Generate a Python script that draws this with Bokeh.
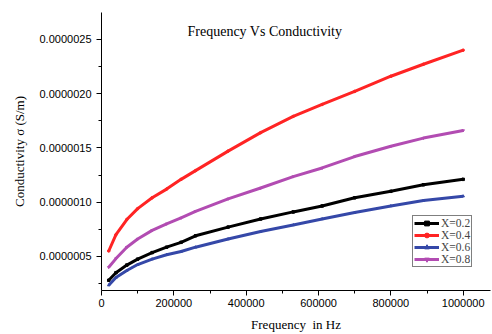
import numpy as np
from bokeh.plotting import figure
from bokeh.models import (FixedTicker, PrintfTickFormatter, Legend, LegendItem,
                          Label, Range1d)
from bokeh.embed import file_html
from bokeh.resources import INLINE

# Frequency (Hz)
freq = [20000, 40000, 70000, 100000, 140000, 180000, 220000, 260000, 350000,
        440000, 530000, 610000, 700000, 800000, 890000, 1000000]
# Conductivity in units of 1e-6 S/m
x02 = [0.28, 0.35, 0.42, 0.475, 0.535, 0.585, 0.63, 0.69, 0.77, 0.845, 0.91,
       0.965, 1.04, 1.10, 1.16, 1.21]
x04 = [0.55, 0.70, 0.84, 0.94, 1.04, 1.12, 1.21, 1.29, 1.47, 1.64, 1.79,
       1.90, 2.02, 2.16, 2.27, 2.40]
x06 = [0.235, 0.305, 0.37, 0.425, 0.475, 0.515, 0.545, 0.585, 0.66, 0.73,
       0.79, 0.845, 0.905, 0.965, 1.015, 1.055]
x08 = [0.40, 0.48, 0.585, 0.66, 0.74, 0.80, 0.855, 0.915, 1.03, 1.13, 1.235,
       1.315, 1.42, 1.515, 1.59, 1.66]

labels = ["X=0.2", "X=0.4", "X=0.6", "X=0.8"]
series = [x02, x04, x06, x08]
colors = ["#000000", "#ff2424", "#3548a8", "#b24cb2"]
markers = ["square", "circle", "triangle", "inverted_triangle"]

y_ticks = [0.5e-6, 1.0e-6, 1.5e-6, 2.0e-6, 2.5e-6]
y_minor = [0.25e-6, 0.75e-6, 1.25e-6, 1.75e-6, 2.25e-6]
x_ticks = [0, 200000, 400000, 600000, 800000, 1000000]
x_minor = [100000, 300000, 500000, 700000, 900000]

SERIF = "Liberation Serif"
SANS = "Liberation Sans"

p = figure(width=492, height=334, output_backend="svg", toolbar_location=None,
           x_range=Range1d(0, 1075500), y_range=Range1d(0.186e-6, 2.747e-6),
           min_border_left=101, min_border_right=2, min_border_top=12,
           min_border_bottom=42)
p.outline_line_color = None
p.xgrid.grid_line_color = None
p.ygrid.grid_line_color = None
p.background_fill_color = "white"
p.border_fill_color = "white"

items = []
for lab, s, c, m in zip(labels, series, colors, markers):
    y = np.array(s) * 1e-6
    r1 = p.line(freq, y, line_color=c, line_width=3)
    r2 = p.scatter(freq, y, marker=m, size=2.5, fill_color=c, line_color=c)
    items.append(LegendItem(label=lab, renderers=[r1, r2]))

for ax in (p.xaxis[0], p.yaxis[0]):
    ax.axis_line_color = "black"
    ax.axis_line_width = 1
    ax.major_tick_in = 0
    ax.major_tick_out = 5
    ax.minor_tick_in = 0
    ax.minor_tick_out = 3
    ax.major_tick_line_color = "black"
    ax.minor_tick_line_color = "black"
    ax.major_label_text_font = SANS
    ax.major_label_text_font_size = "11px"
    ax.major_label_text_color = "black"
    ax.axis_label_text_font = SERIF
    ax.axis_label_text_font_size = "13px"
    ax.axis_label_text_font_style = "normal"
    ax.axis_label_text_color = "black"

p.xaxis.ticker = FixedTicker(ticks=x_ticks, minor_ticks=x_minor)
p.xaxis.formatter = PrintfTickFormatter(format="%d")
p.xaxis.axis_label = "Frequency\u00a0 in Hz"
p.xaxis.major_label_standoff = 3
p.xaxis.axis_label_standoff = 7

p.yaxis.ticker = FixedTicker(ticks=y_ticks, minor_ticks=y_minor)
p.yaxis.formatter = PrintfTickFormatter(format="%.7f")
p.yaxis.axis_label = "Conductivity σ (S/m)"
p.yaxis.major_label_standoff = 5
p.yaxis.axis_label_standoff = 10

title = Label(x=86, y=259, x_units="screen", y_units="screen",
              text="Frequency Vs Conductivity", text_font=SERIF,
              text_font_size="14px", text_baseline="middle", text_color="black")
p.add_layout(title)

legend = Legend(items=items, location=(311, 23), padding=1, spacing=0,
                margin=0, label_height=12, glyph_height=12, glyph_width=25,
                label_standoff=2, label_text_font=SERIF,
                label_text_font_size="11.5px", border_line_color="black",
                border_line_width=1, background_fill_alpha=1.0)
p.add_layout(legend)

open("out.html", "w").write(file_html(p, INLINE))
